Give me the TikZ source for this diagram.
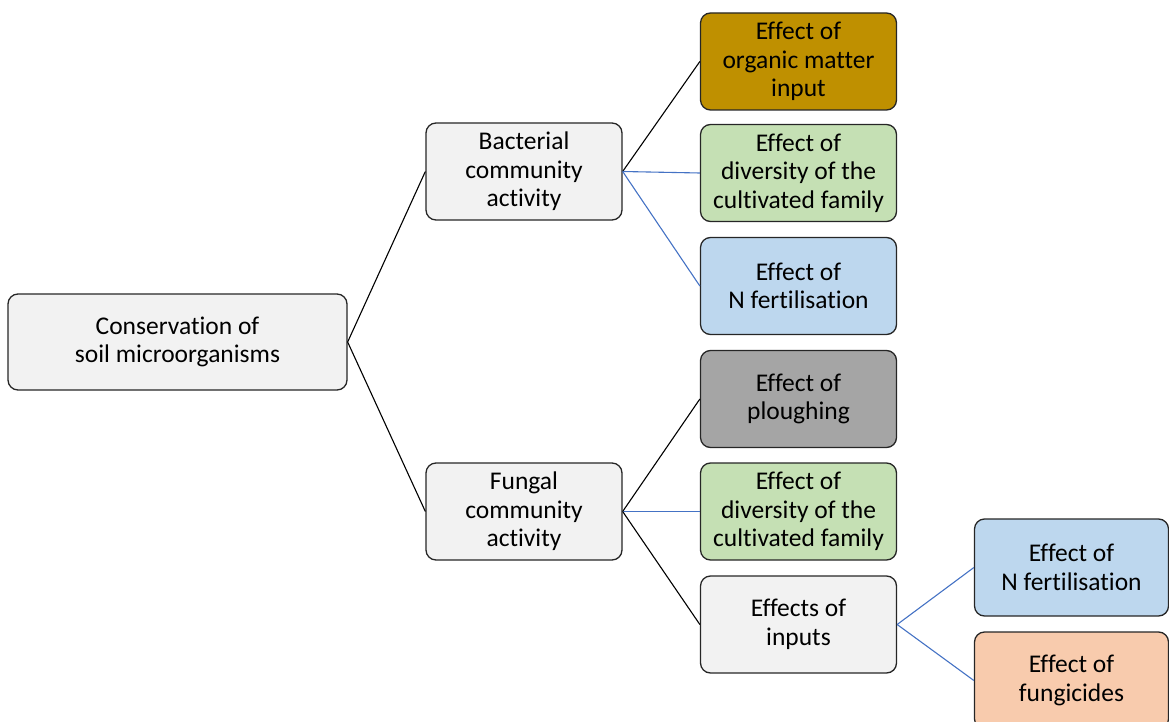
\documentclass[tikz,border=0pt]{standalone}
\usepackage{fontspec}
\setmainfont{Carlito}[Ligatures={NoCommon}]
\definecolor{boxgray}{HTML}{F2F2F2}
\definecolor{gold}{HTML}{BF9000}
\definecolor{lgreen}{HTML}{C5E0B4}
\definecolor{lblue}{HTML}{BDD7EE}
\definecolor{mgray}{HTML}{A5A5A5}
\definecolor{peach}{HTML}{F8CBAD}
\definecolor{linkblue}{HTML}{4472C4}
\begin{document}
\begin{tikzpicture}[x=1pt,y=-1pt,
  box/.style={draw=black!85,line width=1.3pt,rounded corners=10pt,fill=boxgray,
    minimum width=196pt,minimum height=97pt,align=center,inner sep=0pt,
    font=\fontsize{25.5}{28.5}\selectfont},
  blk/.style={draw=black,line width=1.1pt},
  blu/.style={draw=linkblue,line width=1.1pt}]
\useasboundingbox (0,0) rectangle (1169,722);
\begin{scope}
\clip (0,0) rectangle (1169,722);
\node[box,minimum width=339pt,minimum height=96pt] (root) at (177.5,342) {Conservation of\\soil microorganisms};
\node[box] (bact) at (524,171.5) {Bacterial\\community\\activity};
\node[box] (fung) at (524,511.5) {Fungal\\community\\activity};
\node[box,fill=gold] (org) at (798.5,61.5) {Effect of\\organic matter\\input};
\node[box,fill=lgreen] (div1) at (798.5,173) {Effect of\\diversity of the\\cultivated family};
\node[box,fill=lblue] (nf1) at (798.5,286) {Effect of\\N fertilisation};
\node[box,fill=mgray] (plough) at (798.5,399) {Effect of\\ploughing};
\node[box,fill=lgreen] (div2) at (798.5,511.5) {Effect of\\diversity of the\\cultivated family};
\node[box] (inp) at (798.5,624.5) {Effects of\\inputs};
\node[box,minimum width=194pt,fill=lblue] (nf2) at (1071.5,567.5) {Effect of\\N fertilisation};
\node[box,minimum width=194pt,fill=peach] (fungi) at (1071.5,680.5) {Effect of\\fungicides};
\draw[blk] (root.east) -- (bact.west);
\draw[blk] (root.east) -- (fung.west);
\draw[blk] (bact.east) -- (org.west);
\draw[blu] (bact.east) -- (div1.west);
\draw[blu] (bact.east) -- (nf1.west);
\draw[blk] (fung.east) -- (plough.west);
\draw[blu] (fung.east) -- (div2.west);
\draw[blk] (fung.east) -- (inp.west);
\draw[blu] (inp.east) -- (nf2.west);
\draw[blu] (inp.east) -- (fungi.west);
\end{scope}
\end{tikzpicture}
\end{document}
